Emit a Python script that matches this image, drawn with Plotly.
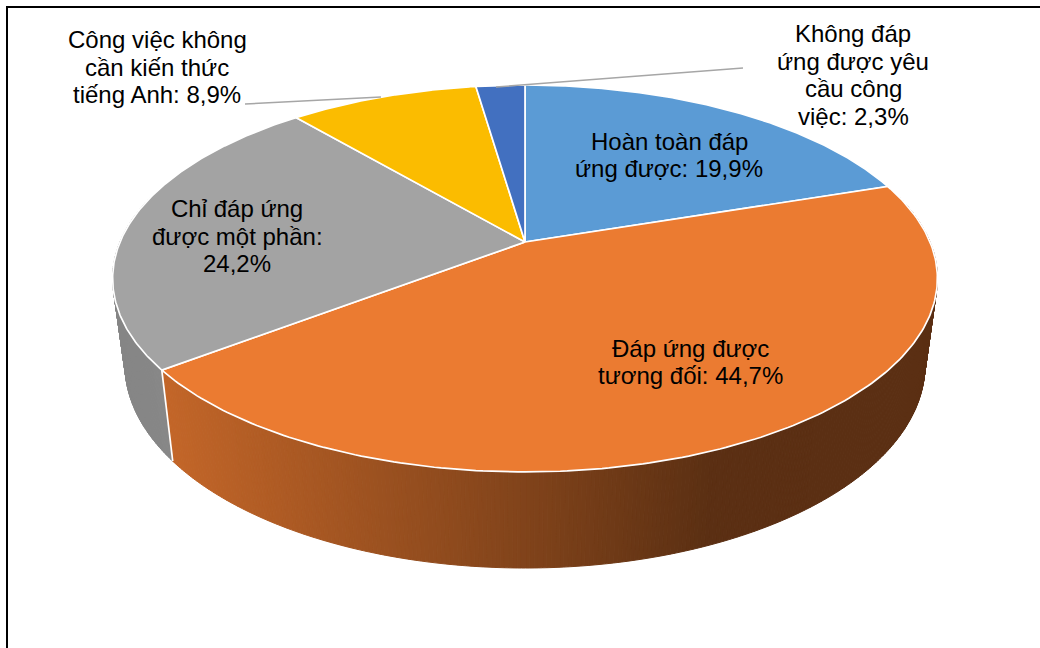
import numpy as np
import plotly.graph_objects as go

# --- Data ---
labels = [
    "Hoàn toàn đáp<br>ứng được: 19,9%",
    "Đáp ứng được<br>tương đối: 44,7%",
    "Chỉ đáp ứng<br>được một phần:<br>24,2%",
    "Công việc không<br>cần kiến thức<br>tiếng Anh: 8,9%",
    "Không đáp<br>ứng được yêu<br>cầu công<br>việc: 2,3%",
]
values = [19.9, 44.7, 24.2, 8.9, 2.3]
colors = ["#5B9BD5", "#EB7B31", "#A3A3A3", "#FBBC00", "#4270C0"]
label_x = [669, 690, 237, 157, 853]
label_y = [155, 362, 236, 67, 75]
LINE_PITCH = 27.8

# (x0, y0, x1, y1) of the two leader lines, slices 3 and 4
leaders = {3: (245, 104, 381, 97), 4: (743, 68, 496, 87)}

# perspective of the disc, in pixels
CX = 525
TOP = dict(a=405.0, b=242.0, c=186.6, k=0.1886)
BOTTOM = dict(a=392.8, b=326.7, c=195.8, k=0.1886)

# side wall gets darker towards the right
shade_x = [100, 165, 525, 710, 1040]
shade_f = [0.82, 0.83, 0.55, 0.39, 0.39]


def project(theta, ring):
    # theta is clockwise from 12 o'clock
    u, v = np.sin(theta), np.cos(theta)
    w = 1 + ring["k"] * v
    return CX + ring["a"] * u / w, ring["b"] - ring["c"] * v / w


def shaded(hex_color, x):
    f = np.interp(x, shade_x, shade_f)
    rgb = [int(hex_color[i:i + 2], 16) for i in (1, 3, 5)]
    return "rgb(%d,%d,%d)" % tuple(int(c * f) for c in rgb)


edges = np.radians(np.cumsum([0] + values) / sum(values) * 360)

fig = go.Figure()

# --- Side wall, thin strips so the gradient can follow x ---
strips = []
for i in range(len(values)):
    n = max(2, int(np.degrees(edges[i + 1] - edges[i]) / 0.5))
    th = np.linspace(edges[i], edges[i + 1], n + 1)
    for t0, t1 in zip(th[:-1], th[1:]):
        if np.cos((t0 + t1) / 2) < 0.25:
            strips.append((np.cos((t0 + t1) / 2), i, t0, t1))
strips.sort(key=lambda s: -s[0])

for _, i, t0, t1 in strips:
    x0, y0 = project(t0, TOP)
    x1, y1 = project(t1, TOP)
    x2, y2 = project(t1, BOTTOM)
    x3, y3 = project(t0, BOTTOM)
    c = shaded(colors[i], (x0 + x1) / 2)
    fig.add_trace(go.Scatter(
        x=[x0, x1, x2, x3, x0], y=[y0, y1, y2, y3, y0],
        mode="lines", fill="toself", fillcolor=c,
        line=dict(color=c, width=1), hoverinfo="skip", showlegend=False,
    ))

# white seam where two slices meet on the visible wall
for e in edges[:-1]:
    if np.cos(e) < -0.1:
        x0, y0 = project(e, TOP)
        x1, y1 = project(e, BOTTOM)
        fig.add_trace(go.Scatter(
            x=[x0, x1], y=[y0, y1], mode="lines",
            line=dict(color="white", width=1.7), hoverinfo="skip", showlegend=False,
        ))

# --- Top of the disc ---
for i in range(len(values)):
    th = np.linspace(edges[i], edges[i + 1], 200)
    px, py = project(th, TOP)
    fig.add_trace(go.Scatter(
        x=[CX] + list(px) + [CX], y=[TOP["b"]] + list(py) + [TOP["b"]],
        mode="lines", fill="toself", fillcolor=colors[i],
        line=dict(color="white", width=1.7), hoverinfo="skip", showlegend=False,
    ))

# --- Leader lines ---
for x0, y0, x1, y1 in leaders.values():
    fig.add_trace(go.Scatter(
        x=[x0, x1], y=[y0, y1], mode="lines",
        line=dict(color="#A6A6A6", width=1.5), hoverinfo="skip", showlegend=False,
    ))

# --- Labels, one annotation per line since the pitch is tighter than plotly's ---
for text, x, y in zip(labels, label_x, label_y):
    lines = text.split("<br>")
    for n, line in enumerate(lines):
        fig.add_annotation(
            x=x, y=y + (n - (len(lines) - 1) / 2) * LINE_PITCH, text=line,
            showarrow=False, align="center", xanchor="center", yanchor="middle",
            font=dict(family="Liberation Sans", size=24, color="black"),
        )

# chart frame runs off the right and bottom of the picture
fig.add_shape(type="rect", x0=7, y0=7, x1=1100, y1=700,
              line=dict(color="black", width=2), fillcolor="rgba(0,0,0,0)")

fig.update_layout(
    width=1040, height=648,
    margin=dict(l=0, r=0, t=0, b=0),
    paper_bgcolor="white", plot_bgcolor="white",
    showlegend=False, hovermode=False,
    xaxis=dict(range=[0, 1040], visible=False),
    yaxis=dict(range=[648, 0], visible=False),
)

fig.write_html("out.html", config=dict(displayModeBar=False),
               post_script="document.body.style.margin='0';")
